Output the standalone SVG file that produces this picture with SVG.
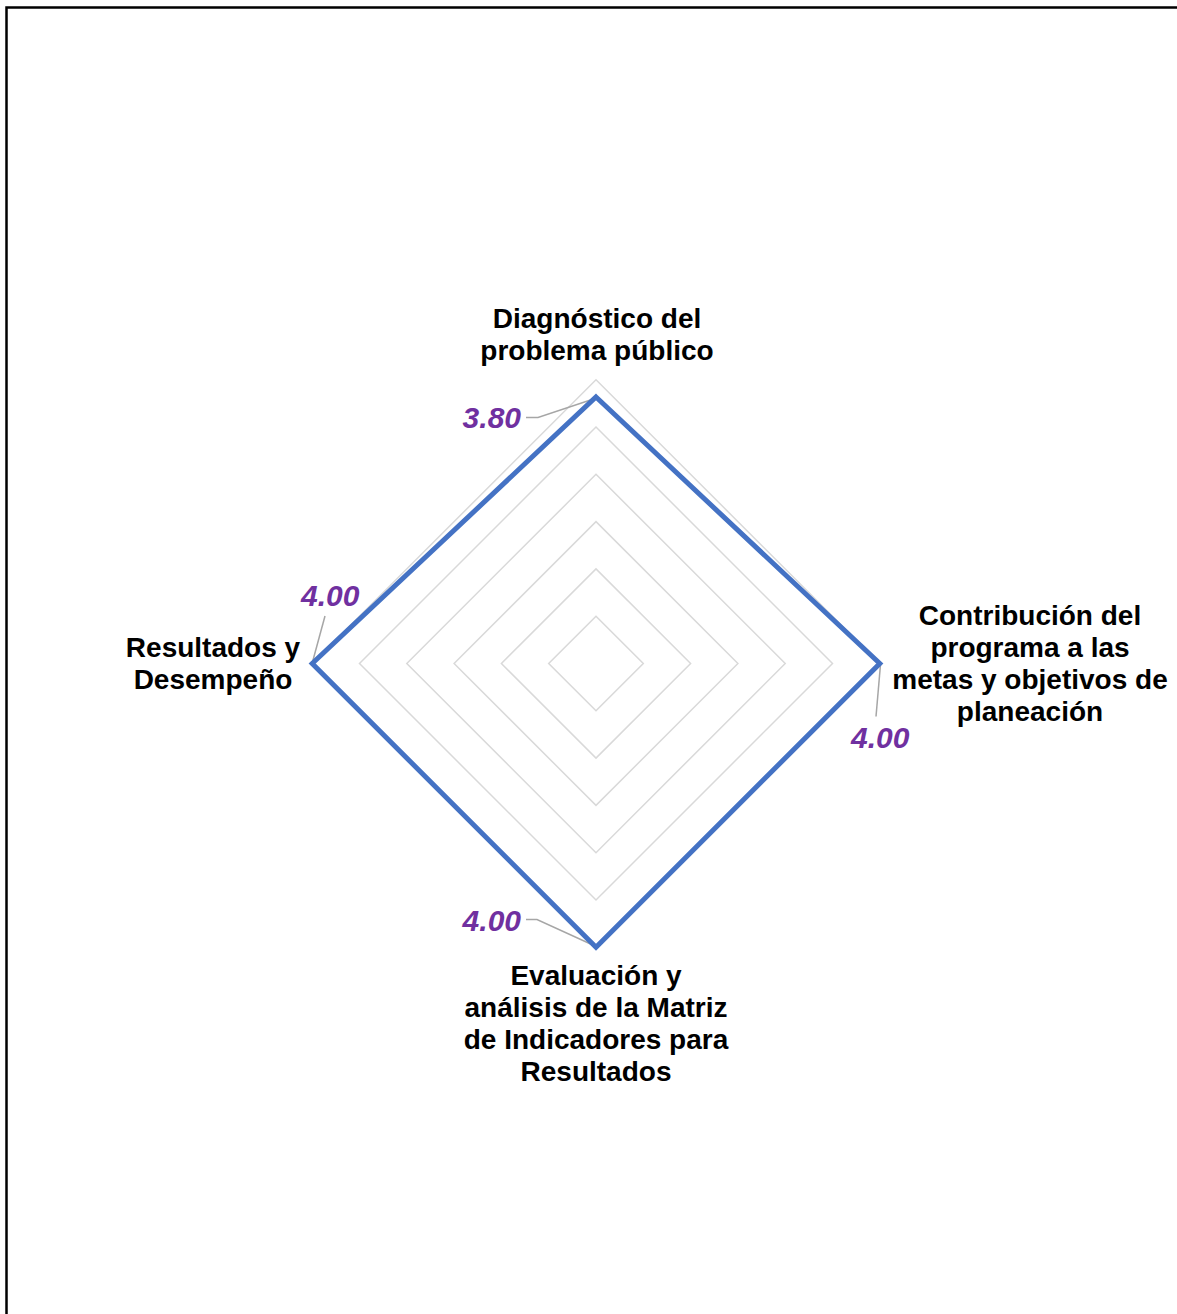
<svg xmlns="http://www.w3.org/2000/svg" width="1177" height="1314" viewBox="0 0 1177 1314">
<style>
.grid{fill:none;stroke:#D9D9D9;stroke-width:1.5}
.data{fill:none;stroke:#4472C4;stroke-width:5;stroke-linejoin:miter}
.leader{fill:none;stroke:#A6A6A6;stroke-width:1.5}
.cat{font-family:"Liberation Sans",Arial,sans-serif;font-weight:bold;font-size:28px;fill:#000;text-anchor:middle}
.val{font-family:"Liberation Sans",Arial,sans-serif;font-weight:bold;font-style:italic;font-size:30px;fill:#7030A0}
</style>
<rect x="0" y="0" width="1177" height="1314" fill="#fff"/>
<rect id="frame" x="6.5" y="7.5" width="1190" height="1330" fill="none" stroke="#000" stroke-width="2.5"/>
<g id="grid">
<polygon class="grid" points="596,616.2 643.3,663.5 596,710.8 548.7,663.5"/>
<polygon class="grid" points="596,568.9 690.6,663.5 596,758.1 501.4,663.5"/>
<polygon class="grid" points="596,521.6 737.9,663.5 596,805.4 454.1,663.5"/>
<polygon class="grid" points="596,474.3 785.2,663.5 596,852.7 406.8,663.5"/>
<polygon class="grid" points="596,427 832.5,663.5 596,900 359.5,663.5"/>
<polygon class="grid" points="596,379.7 879.8,663.5 596,947.3 312.2,663.5"/>
</g>
<g id="connectors">
<polyline class="leader" points="526,417.5 538,417.5 595,398.5"/>
<polyline class="leader" points="325,616 312.5,662"/>
<polyline class="leader" points="876,716.5 880.5,664.5"/>
<polyline class="leader" points="526,919.5 537,919.5 595,946"/>
</g>
<g id="series">
<polygon class="data" points="596,397 879.8,663.5 596,947.3 312.2,663.5"/>
</g>
<g id="value-labels">
<text class="val" x="521" y="428" text-anchor="end">3.80</text>
<text class="val" x="301" y="606">4.00</text>
<text class="val" x="851" y="748">4.00</text>
<text class="val" x="521" y="931" text-anchor="end">4.00</text>
</g>
<g id="node-top">
<text class="cat" x="597" y="328">Diagnóstico del</text>
<text class="cat" x="597" y="360">problema público</text>
</g>
<g id="node-right">
<text class="cat" x="1030" y="625">Contribución del</text>
<text class="cat" x="1030" y="657">programa a las</text>
<text class="cat" x="1030" y="689">metas y objetivos de</text>
<text class="cat" x="1030" y="721">planeación</text>
</g>
<g id="node-bottom">
<text class="cat" x="596" y="985">Evaluación y</text>
<text class="cat" x="596" y="1017">análisis de la Matriz</text>
<text class="cat" x="596" y="1049">de Indicadores para</text>
<text class="cat" x="596" y="1081">Resultados</text>
</g>
<g id="node-left">
<text class="cat" x="213" y="657">Resultados y</text>
<text class="cat" x="213" y="689">Desempeño</text>
</g>
</svg>
